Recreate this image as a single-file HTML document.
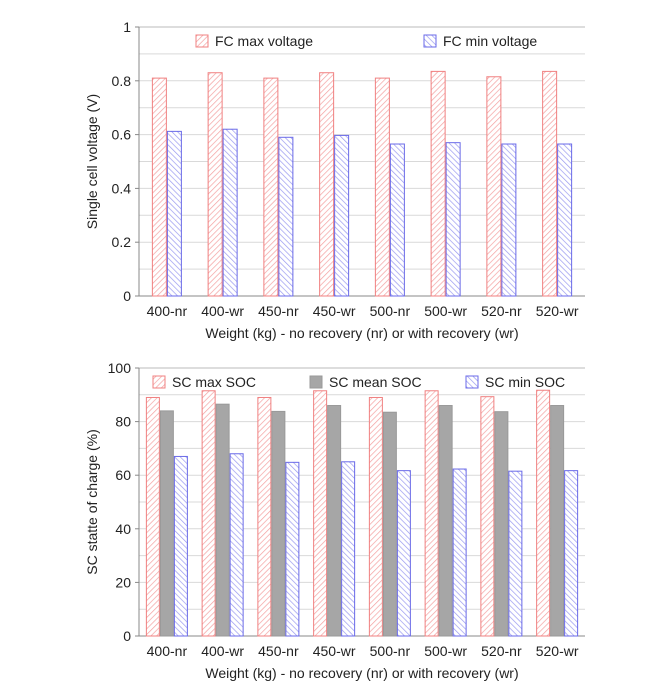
<!DOCTYPE html>
<html><head><meta charset="utf-8"><style>
body{margin:0;background:#fff;width:669px;height:695px;overflow:hidden}
svg{font-family:"Liberation Sans",sans-serif}
</style></head><body>
<svg id="s" width="669" height="695" xmlns="http://www.w3.org/2000/svg">
<defs>
<pattern id="pr" width="4" height="4" patternUnits="userSpaceOnUse" patternTransform="rotate(45)"><rect width="4" height="4" fill="#fff"/><line x1="0" y1="0" x2="0" y2="4" stroke="#f4a0a0" stroke-width="1.4"/></pattern>
<pattern id="pb" width="4" height="4" patternUnits="userSpaceOnUse" patternTransform="rotate(-45)"><rect width="4" height="4" fill="#fff"/><line x1="0" y1="0" x2="0" y2="4" stroke="#9a9af0" stroke-width="1.4"/></pattern>
</defs>
</svg>
<script>
const cats=["400-nr","400-wr","450-nr","450-wr","500-nr","500-wr","520-nr","520-wr"];
const fcMax=[0.81,0.83,0.81,0.83,0.81,0.835,0.815,0.835];
const fcMin=[0.612,0.62,0.59,0.597,0.565,0.57,0.565,0.565];
const scMax=[89,91.5,89,91.5,89,91.5,89.3,91.7];
const scMean=[84,86.5,83.8,86,83.5,86,83.7,86];
const scMin=[67,68,64.8,65,61.7,62.3,61.5,61.7];
const topTicks=["0","0.2","0.4","0.6","0.8","1"];
const botTicks=["0","20","40","60","80","100"];
const svg=document.getElementById('s');
const NS="http://www.w3.org/2000/svg";
function mk(t,a,p){const e=document.createElementNS(NS,t);for(const k in a)e.setAttribute(k,a[k]);(p||svg).appendChild(e);return e;}
function chart(o){
 const L=139,R=585,T=o.top,B=o.bot,max=o.max;
 const y=v=>B-(v/max)*(B-T);
 const gw=(R-L)/cats.length;
 const x=i=>L+gw*(i+0.5);
 const g=mk('g',{});
 
 
 for(let k=1;k<10;k++){const v=max*k/10;const ln=mk('line',{x1:L,x2:R,y1:y(v),y2:y(v),stroke:'#d9d9d9','stroke-width':1},g);
  }
 mk('line',{x1:L,x2:R,y1:T,y2:T,stroke:'#bbb'},g);
 mk('line',{x1:L,x2:L,y1:T,y2:B,stroke:'#888'},g);
 mk('line',{x1:L,x2:R,y1:B,y2:B,stroke:'#888'},g);
 o.ticks.forEach((t,i)=>{const v=max*i/(o.ticks.length-1);
  mk('line',{x1:L-4,x2:L,y1:y(v),y2:y(v),stroke:'#888'},g);
  const tx=mk('text',{x:L-8,y:y(v)+5,'text-anchor':'end','font-size':14,fill:'#222'},g);tx.textContent=t;
  });
 const n=o.series.length,bw=o.bw;
 o.series.forEach((s,si)=>{s.vals.forEach((v,i)=>{
  const bx=x(i)-n*bw/2+si*bw;
  const r=mk('rect',{x:bx+0.5,y:y(v),width:bw-1,height:B-y(v),fill:s.fill,stroke:s.stroke,'stroke-width':1},g);
  });});
 cats.forEach((c,i)=>{const t=mk('text',{x:x(i),y:B+20,'text-anchor':'middle','font-size':14,fill:'#222'},g);t.textContent=c;
  });
 const xt=mk('text',{x:(L+R)/2,y:B+42,'text-anchor':'middle','font-size':14,fill:'#222'},g);xt.textContent="Weight (kg) - no recovery (nr) or with recovery (wr)";
 
 const yt=mk('text',{x:0,y:0,'text-anchor':'middle','font-size':14,fill:'#222',transform:`translate(${L-42},${(T+B)/2}) rotate(-90)`},g);yt.textContent=o.ytitle;
 
 o.legend.forEach(l=>{const le=mk('g',{},g);
  mk('rect',{x:l.x,y:T+8,width:12,height:12,fill:l.fill,stroke:l.stroke},le);
  const t=mk('text',{x:l.x+19,y:T+19,'font-size':14,fill:'#222'},le);t.textContent=l.label;});
}
chart({name:'fc-voltage-chart',top:27,bot:296,max:1,ticks:topTicks,bw:15,ytitle:"Single cell voltage (V)",
 series:[{key:'fc-max',vals:fcMax,fill:'url(#pr)',stroke:'#f08080'},{key:'fc-min',vals:fcMin,fill:'url(#pb)',stroke:'#6a6ae8'}],
 legend:[{x:196,label:"FC max voltage",fill:'url(#pr)',stroke:'#f08080'},{x:424,label:"FC min voltage",fill:'url(#pb)',stroke:'#6a6ae8'}]});
chart({name:'sc-soc-chart',top:368,bot:636,max:100,ticks:botTicks,bw:14,ytitle:"SC statte of charge (%)",
 series:[{key:'sc-max',vals:scMax,fill:'url(#pr)',stroke:'#f08080'},{key:'sc-mean',vals:scMean,fill:'#a6a6a6',stroke:'#999'},{key:'sc-min',vals:scMin,fill:'url(#pb)',stroke:'#6a6ae8'}],
 legend:[{x:153,label:"SC max SOC",fill:'url(#pr)',stroke:'#f08080'},{x:310,label:"SC mean SOC",fill:'#a6a6a6',stroke:'#999'},{x:466,label:"SC min SOC",fill:'url(#pb)',stroke:'#6a6ae8'}]});
</script>
</body></html>
